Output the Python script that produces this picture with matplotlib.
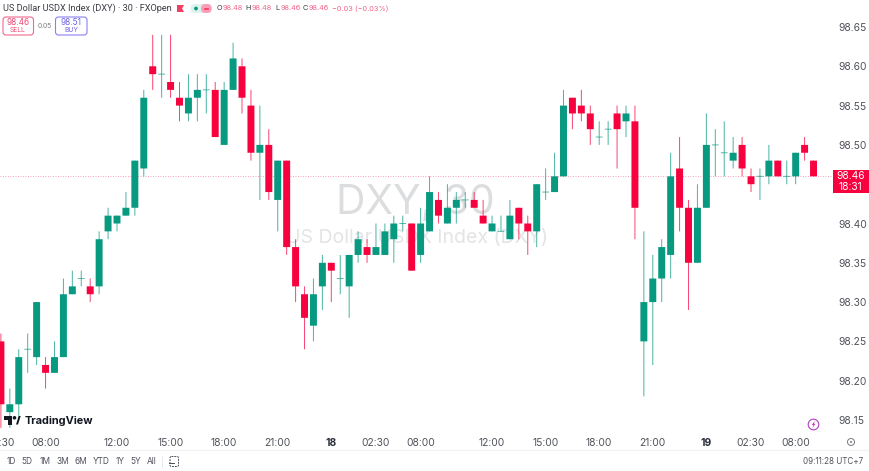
import matplotlib
matplotlib.use("Agg")
import matplotlib.pyplot as plt
from matplotlib.patches import FancyBboxPatch, Circle, Polygon, Rectangle

plt.rcParams['font.family'] = ['Inter', 'DejaVu Sans']

# ---- data ----
opens = [98.25,98.16,98.17,98.24,98.23,98.22,98.21,98.23,98.31,98.33,98.32,98.32,98.39,98.40,98.41,98.42,
         98.47,98.60,98.59,98.58,98.56,98.54,98.56,98.57,98.57,98.50,98.57,98.60,98.55,98.49,98.50,98.43,
         98.48,98.37,98.31,98.27,98.32,98.35,98.33,98.32,98.36,98.37,98.36,98.36,98.38,98.40,98.40,98.36,
         98.39,98.43,98.40,98.42,98.43,98.43,98.41,98.39,98.39,98.38,98.42,98.40,98.39,98.44,98.44,98.46,
         98.56,98.55,98.54,98.51,98.52,98.54,98.53,98.53,98.25,98.30,98.33,98.36,98.47,98.42,98.35,98.42,
         98.50,98.49,98.48,98.50,98.46,98.46,98.46,98.48,98.46,98.46,98.50,98.48]
highs = [98.26,98.19,98.24,98.26,98.30,98.23,98.25,98.33,98.34,98.34,98.33,98.39,98.42,98.41,98.44,98.48,
         98.57,98.64,98.64,98.64,98.58,98.59,98.59,98.59,98.58,98.58,98.63,98.61,98.57,98.55,98.52,98.48,
         98.48,98.38,98.32,98.33,98.36,98.35,98.36,98.36,98.39,98.38,98.40,98.40,98.41,98.41,98.40,98.42,
         98.46,98.44,98.45,98.44,98.44,98.44,98.43,98.41,98.41,98.43,98.42,98.41,98.45,98.47,98.49,98.57,
         98.56,98.57,98.55,98.53,98.53,98.55,98.55,98.55,98.39,98.36,98.38,98.49,98.51,98.43,98.45,98.54,
         98.52,98.53,98.51,98.51,98.47,98.47,98.50,98.48,98.48,98.49,98.51,98.48]
lows = [98.14,98.14,98.15,98.21,98.22,98.19,98.21,98.23,98.31,98.32,98.30,98.31,98.38,98.39,98.41,98.41,
        98.46,98.57,98.56,98.56,98.53,98.53,98.53,98.54,98.51,98.50,98.57,98.54,98.48,98.43,98.43,98.39,
        98.36,98.30,98.24,98.25,98.29,98.30,98.31,98.28,98.35,98.35,98.36,98.36,98.35,98.39,98.34,98.35,
        98.39,98.40,98.40,98.40,98.42,98.42,98.40,98.39,98.39,98.38,98.38,98.36,98.37,98.43,98.44,98.46,
        98.52,98.53,98.50,98.50,98.50,98.47,98.51,98.38,98.18,98.22,98.30,98.33,98.39,98.29,98.35,98.42,
        98.46,98.46,98.47,98.46,98.44,98.43,98.45,98.46,98.45,98.45,98.48,98.46]
closes = [98.17,98.17,98.23,98.24,98.30,98.21,98.23,98.31,98.32,98.33,98.31,98.38,98.41,98.41,98.42,98.48,
          98.56,98.59,98.59,98.57,98.55,98.56,98.57,98.57,98.51,98.57,98.61,98.56,98.49,98.50,98.44,98.48,
          98.37,98.32,98.28,98.31,98.35,98.34,98.33,98.36,98.38,98.36,98.37,98.39,98.40,98.40,98.34,98.40,
          98.44,98.41,98.42,98.43,98.43,98.42,98.40,98.40,98.39,98.41,98.40,98.39,98.45,98.44,98.46,98.55,
          98.54,98.54,98.52,98.51,98.52,98.52,98.54,98.42,98.30,98.33,98.37,98.46,98.42,98.35,98.42,98.50,
          98.50,98.49,98.49,98.47,98.45,98.46,98.48,98.46,98.46,98.49,98.49,98.46]
time_positions = [0,5,13,19,25,31,37,42,47,55,61,67,73,79,84,89]
time_labels = ['02:30','08:00','12:00','15:00','18:00','21:00','18','02:30','08:00','12:00','15:00','18:00','21:00','19','02:30','08:00']
price_ticks = [98.15,98.20,98.25,98.30,98.35,98.40,98.50,98.55,98.60,98.65]
last_price = 98.46
ohlc_labels = ['O','H','L','C']
ohlc_values = ['98.48','98.48','98.46','98.46']
range_labels = ['1D','5D','1M','3M','6M','YTD','1Y','5Y','All']

GREEN = '#089981'
RED = '#F7023F'
TXT = '#50535B'
W, H = 870, 471
PANE_R, PANE_B = 833, 431
STEP, X0 = 8.93, 0.9
PX_PER_PRICE = 786.0
Y65 = 27.0

fig = plt.figure(figsize=(W/100, H/100), dpi=100, facecolor='white')
ax = fig.add_axes([0, 1-PANE_B/H, PANE_R/W, PANE_B/H])
ax.set_xlim((0-X0)/STEP, (PANE_R-X0)/STEP)
ax.set_ylim(98.65-(PANE_B-Y65)/PX_PER_PRICE, 98.65+Y65/PX_PER_PRICE)
for s in ax.spines.values():
    s.set_visible(False)

ax.text(415/PANE_R, 1-203/PANE_B, 'DXY, 30', transform=ax.transAxes, ha='center', va='center',
        fontsize=29.3, color='#DCDDDF', zorder=0)
ax.text(417/PANE_R, 1-238/PANE_B, 'US Dollar USDX Index (DXY)', transform=ax.transAxes, ha='center', va='center',
        fontsize=14, color='#E3E4E6', zorder=0)

ax.axhline(last_price, color=RED, lw=0.6, ls=(0,(1,2)), alpha=0.5, zorder=1)

for i, (o, h, l, c) in enumerate(zip(opens, highs, lows, closes)):
    col = RED if c < o else GREEN
    ln = ax.vlines(i, l, h, color=col, lw=0.72, zorder=2, alpha=0.72)
    ln.set_snap(False)
    if o == c:
        d = ax.hlines(o, i-0.38, i+0.38, color=col, lw=0.72, zorder=2, alpha=0.65)
        d.set_snap(False)
    else:
        b = ax.bar(i, abs(c-o), bottom=min(o, c), width=0.78, color=col, lw=0, zorder=3)
        for r in b:
            r.set_snap(False)

ax.yaxis.tick_right()
ax.set_yticks(price_ticks)
ax.set_yticklabels([f'{p:.2f}' for p in price_ticks], fontsize=7.4, color=TXT)
ax.tick_params(axis='y', length=0, pad=4)
ax.set_xticks(time_positions)
ax.set_xticklabels(time_labels, fontsize=7.4, color=TXT)
ax.tick_params(axis='x', length=0, pad=5)
for t in ax.get_xticklabels():
    if t.get_text() in ('18', '19'):
        t.set_fontweight('bold')
        t.set_color('#2A2E39')

# overlay in pixel coordinates for the TradingView chrome
ov = fig.add_axes([0, 0, 1, 1], facecolor='none')
ov.set_xlim(0, W)
ov.set_ylim(H, 0)
ov.axis('off')

ov.text(3, 8.5, 'US Dollar USDX Index (DXY) · 30 · FXOpen', fontsize=6.6, color='#3A3D45',
        va='center', ha='left', family=['Roboto', 'DejaVu Sans'])
ov.add_patch(Polygon([(177,5),(184,5),(182,8.5),(184,12),(177,12)], color='#F23C62', lw=0))
ov.add_patch(FancyBboxPatch((190.5,4),21,9,boxstyle='round,pad=0,rounding_size=4.5', fc='#DDF3EE', ec='none'))
ov.add_patch(Circle((196,8.5),1.9,color=GREEN,lw=0))
ov.add_patch(FancyBboxPatch((201,4),10.7,9,boxstyle='round,pad=0,rounding_size=4.5', fc='#F99DB8', ec='none'))
ov.plot([204,208],[7.6,7.6],color='#F23C62',lw=0.6)
ov.plot([204,208],[9.4,9.4],color='#F23C62',lw=0.6)

ohlc_x = [216.5, 245.5, 275, 303]
for xp, lab, val in zip(ohlc_x, ohlc_labels, ohlc_values):
    ov.text(xp, 8.5, lab, fontsize=5.3, color='#3A3D45', va='center', ha='left')
    ov.text(xp+6, 8.5, val, fontsize=5.3, color='#F0668A', va='center', ha='left')
ov.text(332, 8.5, '−0.03 (−0.03%)', fontsize=5.3, color='#F0668A', va='center', ha='left')

ov.add_patch(FancyBboxPatch((3,17),30.5,18,boxstyle='round,pad=0,rounding_size=3', fc='white', ec='#EE6A8C', lw=0.8))
ov.text(18,22.5,'98.46',fontsize=6,color='#EE4A75',ha='center',va='center')
ov.text(18,30,'SELL',fontsize=4.8,color='#EE4A75',ha='center',va='center')
ov.text(45,26,'0.05',fontsize=4.8,color='#777A82',ha='center',va='center')
ov.add_patch(FancyBboxPatch((55.5,17),31.5,18,boxstyle='round,pad=0,rounding_size=3', fc='white', ec='#8C80F0', lw=0.8))
ov.text(71.5,22.5,'98.51',fontsize=6,color='#6E62E8',ha='center',va='center')
ov.text(71.5,30,'BUY',fontsize=4.8,color='#6E62E8',ha='center',va='center')

# last-price tag
ov.add_patch(Rectangle((833,170),37,23,fc=RED,ec='none',zorder=5))
ov.text(850.5,176.3,'98.46',fontsize=7.4,color='white',ha='center',va='center',zorder=6)
ov.text(850.5,186.5,'18:31',fontsize=7.4,color='white',ha='center',va='center',zorder=6)

# TradingView logo
ov.add_patch(Polygon([(4.3,416),(12.5,416),(12.5,424.5),(8.5,424.5),(8.5,419.5),(4.3,419.5)],color='#131722',lw=0))
ov.add_patch(Circle((14.5,417.8),1.8,color='#131722',lw=0))
ov.add_patch(Polygon([(16,424.5),(18.7,416),(20.7,416),(18,424.5)],color='#131722',lw=0))
ov.text(24.5,420.5,'TradingView',fontsize=7.9,fontweight='bold',color='#131722',va='center',ha='left')

# lightning badge and settings icon
ov.add_patch(Circle((813.5,424.5),5.3,fc='white',ec='#B03CC0',lw=0.8))
ov.add_patch(Polygon([(814.8,420.8),(811.8,425),(813.4,425),(812.4,428),(815.5,423.8),(813.9,423.8)],color='#C040B0',lw=0))
ov.add_patch(Circle((851,442),3.5,fc='white',ec='#777A82',lw=0.7))
ov.add_patch(Circle((851,442),1.2,fc='#999999',ec='none'))

# bottom toolbar
ov.plot([0,W],[450,450],color='#F0F1F3',lw=0.8)
range_x = [11,27,45,62.7,80.7,100.7,119.7,135.7,151.7]
for rx, lab in zip(range_x, range_labels):
    ov.text(rx,461.5,lab,fontsize=6,color=TXT,ha='center',va='center')
ov.plot([162,162],[456,467],color='#E8E9EB',lw=0.7)
ov.add_patch(FancyBboxPatch((170,456.5),8.5,10,boxstyle='round,pad=0,rounding_size=1.5',fc='white',ec='#4A4D55',lw=0.7,ls=(0,(2,1))))
ov.plot([169.5,174],[463,463],color='#4A4D55',lw=0.7)
ov.text(863,461.5,'09:11:28 UTC+7',fontsize=5.8,color=TXT,ha='right',va='center')

fig.savefig('out.png', dpi=100, facecolor='white')
